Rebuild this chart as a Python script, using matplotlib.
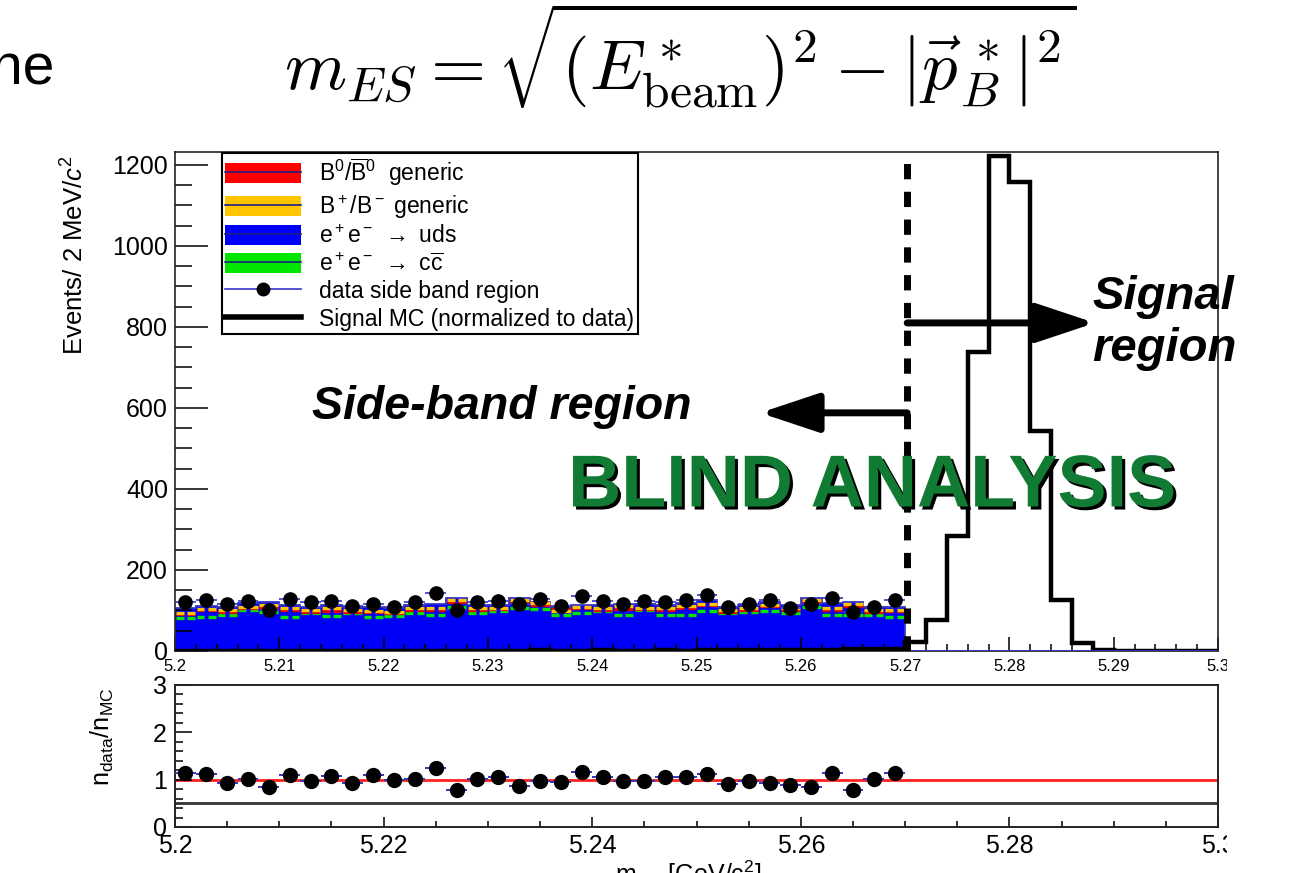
import numpy as np
import matplotlib
matplotlib.use("Agg")
import matplotlib.pyplot as plt
import matplotlib.patheffects as pe
from matplotlib.patches import Patch, Rectangle
from matplotlib.lines import Line2D
from matplotlib.ticker import MultipleLocator

plt.rcParams['font.family'] = ['Liberation Sans', 'DejaVu Sans']
plt.rcParams['mathtext.fontset'] = 'custom'
plt.rcParams['mathtext.rm'] = 'Liberation Sans'
plt.rcParams['mathtext.it'] = 'Liberation Sans:italic'
plt.rcParams['mathtext.bf'] = 'Liberation Sans:bold'

# binning: 2 MeV bins from 5.2 to 5.3 GeV
x_lo, x_hi, n_bins = 5.2, 5.3, 50
n_side = 35  # bins below the 5.27 cut

# data in the side band (events / bin)
data_counts = [120, 126, 115, 124, 101, 128, 120, 124, 111, 116, 108, 120,
               142, 101, 120, 124, 115, 128, 111, 137, 124, 115, 124, 120,
               126, 138, 108, 115, 127, 107, 115, 130, 96, 108, 127]

# data / MC ratio
ratio = [1.15, 1.13, 0.92, 1.01, 0.85, 1.10, 0.98, 1.08, 0.94, 1.09, 0.99, 1.01,
         1.24, 0.78, 1.01, 1.06, 0.87, 0.98, 0.945, 1.16, 1.05, 0.98, 0.98, 1.06,
         1.05, 1.11, 0.90, 0.98, 0.94, 0.89, 0.85, 1.15, 0.78, 1.01, 1.15]

# MC stack, levels
mc_total = [105, 111, 109, 118, 122, 114, 108, 114, 109, 108, 105, 114,
            115, 132, 114, 114, 132, 122, 109, 114, 114, 114, 115, 114,
            118, 126, 109, 114, 122, 114, 132, 118, 122, 109, 108]
bp_level = [95, 103, 101, 109, 113, 105, 100, 105, 100, 99, 97, 105,
            105, 125, 105, 106, 125, 119, 99, 108, 105, 110, 106, 105,
            110, 117, 100, 105, 113, 105, 125, 105, 115, 100, 101]
b0_level = [92, 100, 96, 106, 105, 102, 97, 98, 97, 96, 94, 102,
            102, 122, 102, 103, 122, 113, 104, 105, 102, 104, 103, 102,
            107, 114, 97, 102, 110, 102, 122, 102, 112, 97, 98]
cc_level = [81, 85, 88, 101, 96, 85, 95, 87, 95, 85, 87, 95,
            90, 108, 95, 99, 105, 104, 90, 95, 99, 90, 101, 90,
            90, 99, 95, 97, 99, 95, 109, 89, 90, 90, 85]

# signal MC (normalized to data), all 50 bins
signal_mc = [1, 1, 1, 1, 1, 1, 1, 1, 1, 1, 1, 1, 1, 1, 1, 1, 1, 2, 1, 1,
             2, 1, 1, 2, 1, 2, 2, 2, 2, 3, 3, 3, 6, 6, 6, 23, 77, 283, 737, 1222,
             1157, 543, 126, 20, 2, 1, 1, 1, 1, 1]

edges = np.linspace(x_lo, x_hi, n_bins + 1)
width = edges[1] - edges[0]
side_edges = edges[:n_side + 1]
centers = 0.5 * (side_edges[:-1] + side_edges[1:])

W, H = 1291, 873
fig = plt.figure(figsize=(W / 100, H / 100), dpi=100)

def fx(px):
    return px / W

def fy(py):
    return 1 - py / H

ax = fig.add_axes([fx(175), fy(651), fx(1218) - fx(175), fy(152) - fy(651)])
axr = fig.add_axes([fx(175), fy(827), fx(1218) - fx(175), fy(685) - fy(827)])

blue = '#0000f8'
navy = '#3535c8'

# ---------- main panel ----------
ax.stairs(mc_total, side_edges, fill=True, color=blue, zorder=1)
ax.stairs(mc_total, side_edges, color=navy, lw=1.3, zorder=2)

gap = 0.09 * width
end = 0.04 * width
for lev, col in [(cc_level, '#00e600'), (b0_level, '#e00000'), (bp_level, '#ffc400')]:
    ax.hlines(lev, side_edges[:-1] + end, centers - gap, color=col, lw=2.4, zorder=2)
    ax.hlines(lev, centers + gap, side_edges[1:] - end, color=col, lw=2.4, zorder=2)

ax.stairs(signal_mc, edges, color='k', lw=3.2, zorder=3)
ax.hlines(0.5, edges[n_side], x_hi, color=navy, lw=1.2, zorder=3)

ax.errorbar(centers, data_counts, xerr=width / 2, fmt='o', color=navy,
            mfc='k', mec='k', ms=9.5, elinewidth=1.2, capsize=0, zorder=4)

ax.axvline(5.2702, ymin=0, ymax=0.994, color='k', lw=5,
           linestyle=(0, (2.2, 1.8)), zorder=5)

arrow = dict(arrowstyle='-|>,head_length=36,head_width=12', lw=5, color='k',
             mutation_scale=1, shrinkA=0, shrinkB=0)
ax.annotate('', xy=(5.2882, 810), xytext=(5.2702, 810), arrowprops=arrow, zorder=6)
ax.annotate('', xy=(5.2561, 588), xytext=(5.2702, 588), arrowprops=arrow, zorder=6)

ax.set_xlim(x_lo, x_hi)
ax.set_ylim(0, 1232)
ax.xaxis.set_minor_locator(MultipleLocator(0.002))
ax.yaxis.set_major_locator(MultipleLocator(200))
ax.yaxis.set_minor_locator(MultipleLocator(50))
ax.set_xticks(np.round(np.arange(5.2, 5.3001, 0.01), 2))
ax.set_xticklabels([f'{v:g}' for v in np.round(np.arange(5.2, 5.3001, 0.01), 2)])
ax.tick_params(axis='both', which='both', direction='in', top=False, right=False)
ax.tick_params(axis='y', which='major', length=24, width=1.1, labelsize=18, pad=5)
ax.tick_params(axis='y', which='minor', length=12, width=1.1)
ax.tick_params(axis='x', which='major', length=10, width=1.1, labelsize=12, pad=6)
ax.tick_params(axis='x', which='minor', length=5, width=1.1)
for s in ax.spines.values():
    s.set_linewidth(1.2)
    s.set_color('#222222')

handles = [
    (Patch(fc='#ff0000', ec='none'), Line2D([], [], color='#202080', lw=1.2)),
    (Patch(fc='#ffc400', ec='none'), Line2D([], [], color='#202080', lw=1.2)),
    (Patch(fc=blue, ec='none'), Line2D([], [], color='#202080', lw=1.2)),
    (Patch(fc='#00e600', ec='none'), Line2D([], [], color='#202080', lw=1.2)),
    Line2D([], [], color=navy, lw=1.2, marker='o', mfc='k', mec='k', ms=9),
    Line2D([], [], color='k', lw=4),
]
labels = [r'B$^0$/$\overline{\mathrm{B}}^0$  generic',
          r'B$^+$/B$^-$ generic',
          r'e$^+$e$^-$ $\rightarrow$ uds',
          r'e$^+$e$^-$ $\rightarrow$ c$\overline{\mathrm{c}}$',
          'data side band region',
          'Signal MC (normalized to data)']
leg = ax.legend(handles, labels, loc='upper left', bbox_to_anchor=(0.045, 0.998),
                borderaxespad=0, fontsize=16.5, frameon=True, fancybox=False,
                edgecolor='k', borderpad=0.15, handlelength=3.3, handleheight=0.95,
                handletextpad=0.8, labelspacing=0.2, framealpha=1)
leg.get_frame().set_linewidth(1.5)
leg.set_zorder(7)

# ---------- ratio panel ----------
axr.axhline(1.0, color='#ff2020', lw=2, zorder=1)
axr.axhline(0.5, color='#333333', lw=2, zorder=1)
axr.errorbar(centers, ratio, xerr=width / 2, fmt='o', color=navy,
             mfc='k', mec='k', ms=10, elinewidth=1.4, capsize=0, zorder=3)
axr.set_xlim(x_lo, x_hi)
axr.set_ylim(0, 3)
axr.set_xticks(np.round(np.arange(5.2, 5.3001, 0.02), 2))
axr.set_xticklabels([f'{v:g}' for v in np.round(np.arange(5.2, 5.3001, 0.02), 2)])
axr.xaxis.set_minor_locator(MultipleLocator(0.005))
axr.yaxis.set_major_locator(MultipleLocator(1))
axr.yaxis.set_minor_locator(MultipleLocator(0.2))
axr.tick_params(axis='both', which='both', direction='in', top=False, right=False,
                labelsize=18)
axr.tick_params(axis='x', which='major', length=7, width=1.1, pad=5)
axr.tick_params(axis='x', which='minor', length=4, width=1.1)
axr.tick_params(axis='y', which='major', length=12, width=1.1, pad=6)
axr.tick_params(axis='y', which='minor', length=6, width=1.1)
for s in axr.spines.values():
    s.set_linewidth(1.4)
    s.set_color('#222222')

# ---------- texts ----------
fig.text(fx(75), fy(255), r'Events/ 2 MeV/$c^2$', rotation=90, ha='center',
         va='center', fontsize=18.5)
fig.text(fx(102), fy(737), r'n$_{\mathrm{data}}$/n$_{\mathrm{MC}}$', rotation=90,
         ha='center', va='center', fontsize=18)
fig.text(fx(615), fy(874), r'm$_{\mathrm{ES}}$ [GeV/c$^2$]', ha='left',
         va='center', fontsize=18)

fig.text(fx(-9), fy(68), 'he', ha='left', va='center', fontsize=41)
fig.text(fx(680), fy(56), r'$m_{ES} = \sqrt{(E^*_{\rm beam})^2 - |\vec{p}_B^{\,*}|^2}$',
         ha='center', va='center', fontsize=51, math_fontfamily='cm')

fig.text(fx(502), fy(407), 'Side-band region', ha='center', va='center',
         fontsize=33.5, fontweight='bold', fontstyle='italic', zorder=8)
fig.text(fx(1092), fy(323), 'Signal\nregion', ha='left', va='center',
         fontsize=34, fontweight='bold', fontstyle='italic', linespacing=1.22,
         zorder=8)
fig.text(fx(872), fy(487), 'BLIND ANALYSIS', ha='center', va='center',
         fontsize=53, fontweight='bold', color='#117a33', zorder=8,
         path_effects=[pe.SimplePatchShadow(offset=(2.2, -2.2),
                                            shadow_rgbFace='k', alpha=1.0),
                       pe.Normal()])

# canvas edge clips the last tick labels
fig.patches.append(Rectangle((fx(1227), 0), 1 - fx(1227), fy(656),
                             transform=fig.transFigure, fc='white', ec='none',
                             zorder=9))

fig.savefig('out.png', dpi=100)
